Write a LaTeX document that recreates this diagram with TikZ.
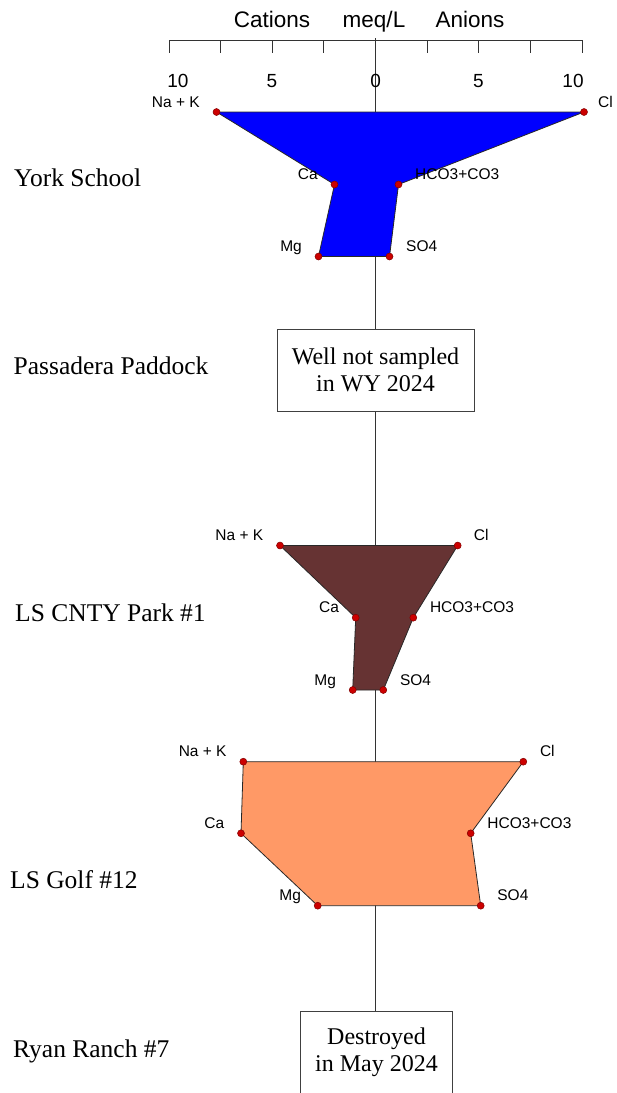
\documentclass[tikz,border=0pt]{standalone}
\usepackage{fontspec}
\setmainfont{Liberation Serif}
\setsansfont{Liberation Sans}
\definecolor{york}{RGB}{0,0,255}
\definecolor{park}{RGB}{102,51,51}
\definecolor{golf}{RGB}{255,153,102}
\definecolor{dotfill}{RGB}{204,0,0}
\definecolor{dotline}{RGB}{130,0,0}
\definecolor{edge}{RGB}{40,40,40}
\tikzset{
  axisline/.style={draw=black!80, line width=0.8pt},
  polyline/.style={draw=edge, line width=0.8pt, line join=round},
  iondot/.style={circle, fill=dotfill, draw=dotline, line width=0.5pt, inner sep=0pt, minimum size=7pt},
  catlabel/.style={anchor=base east, inner sep=0pt, font=\sffamily\fontsize{15.5}{18}\selectfont},
  anlabel/.style={anchor=base west, inner sep=0pt, font=\sffamily\fontsize{15.5}{18}\selectfont},
  sitelabel/.style={anchor=base west, inner sep=0pt, font=\fontsize{25.5}{30}\selectfont},
  ticklabel/.style={anchor=base, inner sep=0pt, font=\sffamily\fontsize{19}{22}\selectfont},
  titlelabel/.style={anchor=base, inner sep=0pt, font=\sffamily\fontsize{22.5}{26}\selectfont},
  notebox/.style={draw=black!75, line width=0.8pt, fill=white, align=center, inner sep=0pt,
    font=\fontsize{24}{27}\selectfont},
}
\begin{document}
\begin{tikzpicture}[x=1pt, y=-1pt]
\useasboundingbox (0,0) rectangle (617,1093);
% ---- axis ----
\coordinate (ctop) at (375.5,38);
\coordinate (cbot) at (375.5,1095);
\draw[axisline] (ctop) -- (cbot);
\coordinate (axl) at (169,40);
\coordinate (axr) at (582,40);
\draw[axisline] (axl) -- (axr);
\foreach \x in {169,220.5,272,323.7,375.5,427,478.5,530,582}{
  \draw[axisline] (\x,40) -- (\x,53);
}
\node[titlelabel] (tcat) at (272,27) {Cations};
\node[titlelabel] (tmeq) at (374,27) {meq/L};
\node[titlelabel] (tan) at (470,27) {Anions};
\node[ticklabel] (n10l) at (178,87) {10};
\node[ticklabel] (n5l) at (272,87) {5};
\node[ticklabel] (n0) at (375.7,87) {0};
\node[ticklabel] (n5r) at (478.5,87) {5};
\node[ticklabel] (n10r) at (573,87) {10};

% ---- York School ----
\coordinate (ynak) at (216.5,112);
\coordinate (ycl) at (584,112);
\coordinate (yca) at (334.5,184.5);
\coordinate (yhco) at (398.5,184.5);
\coordinate (ymg) at (318.5,256.5);
\coordinate (yso) at (389.5,256.5);
\filldraw[polyline, fill=york] (ynak) -- (yca) -- (ymg) -- (yso) -- (yhco) -- (ycl) -- cycle;
\foreach \p in {ynak,ycl,yca,yhco,ymg,yso}{\node[iondot] at (\p) {};}
\node[catlabel] (ynakl) at ([shift={(-16.5,-5)}]ynak) {Na + K};
\node[anlabel] (ycll) at ([shift={(14,-5)}]ycl) {Cl};
\node[catlabel] (ycal) at ([shift={(-16.5,-5)}]yca) {Ca};
\node[anlabel] (yhcol) at ([shift={(16.5,-5)}]yhco) {HCO3+CO3};
\node[catlabel] (ymgl) at ([shift={(-16.5,-5)}]ymg) {Mg};
\node[anlabel] (ysol) at ([shift={(16.5,-5)}]yso) {SO4};
\node[sitelabel] (york) at (14,186) {York School};

% ---- Passadera Paddock ----
\node[sitelabel] (pass) at (13.5,374.3) {Passadera Paddock};
\node[notebox, minimum width=197pt, minimum height=82pt] (passbox) at (375.5,370) {Well not sampled\\in WY 2024};

% ---- LS CNTY Park #1 ----
\coordinate (pnak) at (280,545.5);
\coordinate (pcl) at (457.7,545.5);
\coordinate (pca) at (355.7,617.7);
\coordinate (phco) at (413.3,617.7);
\coordinate (pmg) at (352.7,690);
\coordinate (pso) at (383.3,690);
\filldraw[polyline, fill=park] (pnak) -- (pca) -- (pmg) -- (pso) -- (phco) -- (pcl) -- cycle;
\foreach \p in {pnak,pcl,pca,phco,pmg,pso}{\node[iondot] at (\p) {};}
\node[catlabel] (pnakl) at ([shift={(-16.5,-5)}]pnak) {Na + K};
\node[anlabel] (pcll) at ([shift={(16,-5)}]pcl) {Cl};
\node[catlabel] (pcal) at ([shift={(-16.5,-5)}]pca) {Ca};
\node[anlabel] (phcol) at ([shift={(16.5,-5)}]phco) {HCO3+CO3};
\node[catlabel] (pmgl) at ([shift={(-16.5,-5)}]pmg) {Mg};
\node[anlabel] (psol) at ([shift={(16.5,-5)}]pso) {SO4};
\node[sitelabel] (park) at (15,621.7) {LS CNTY Park \#1};

% ---- LS Golf #12 ----
\coordinate (gnak) at (243.3,761.7);
\coordinate (gcl) at (523.3,761.7);
\coordinate (gca) at (241,833.3);
\coordinate (ghco) at (470.7,833.3);
\coordinate (gmg) at (317.7,905.7);
\coordinate (gso) at (480.7,905.7);
\filldraw[polyline, fill=golf] (gnak) -- (gca) -- (gmg) -- (gso) -- (ghco) -- (gcl) -- cycle;
\foreach \p in {gnak,gcl,gca,ghco,gmg,gso}{\node[iondot] at (\p) {};}
\node[catlabel] (gnakl) at ([shift={(-16.5,-5)}]gnak) {Na + K};
\node[anlabel] (gcll) at ([shift={(16.5,-5)}]gcl) {Cl};
\node[catlabel] (gcal) at ([shift={(-16.5,-5)}]gca) {Ca};
\node[anlabel] (ghcol) at ([shift={(16.5,-5)}]ghco) {HCO3+CO3};
\node[catlabel] (gmgl) at ([shift={(-16.5,-5)}]gmg) {Mg};
\node[anlabel] (gsol) at ([shift={(16.5,-5)}]gso) {SO4};
\node[sitelabel] (golf) at (10,888.3) {LS Golf \#12};

% ---- Ryan Ranch #7 ----
\node[sitelabel] (ryan) at (13,1057) {Ryan Ranch \#7};
\node[notebox, minimum width=152pt, minimum height=82pt] (ryanbox) at (376.5,1052.5) {Destroyed\\in May 2024};
\end{tikzpicture}
\end{document}
